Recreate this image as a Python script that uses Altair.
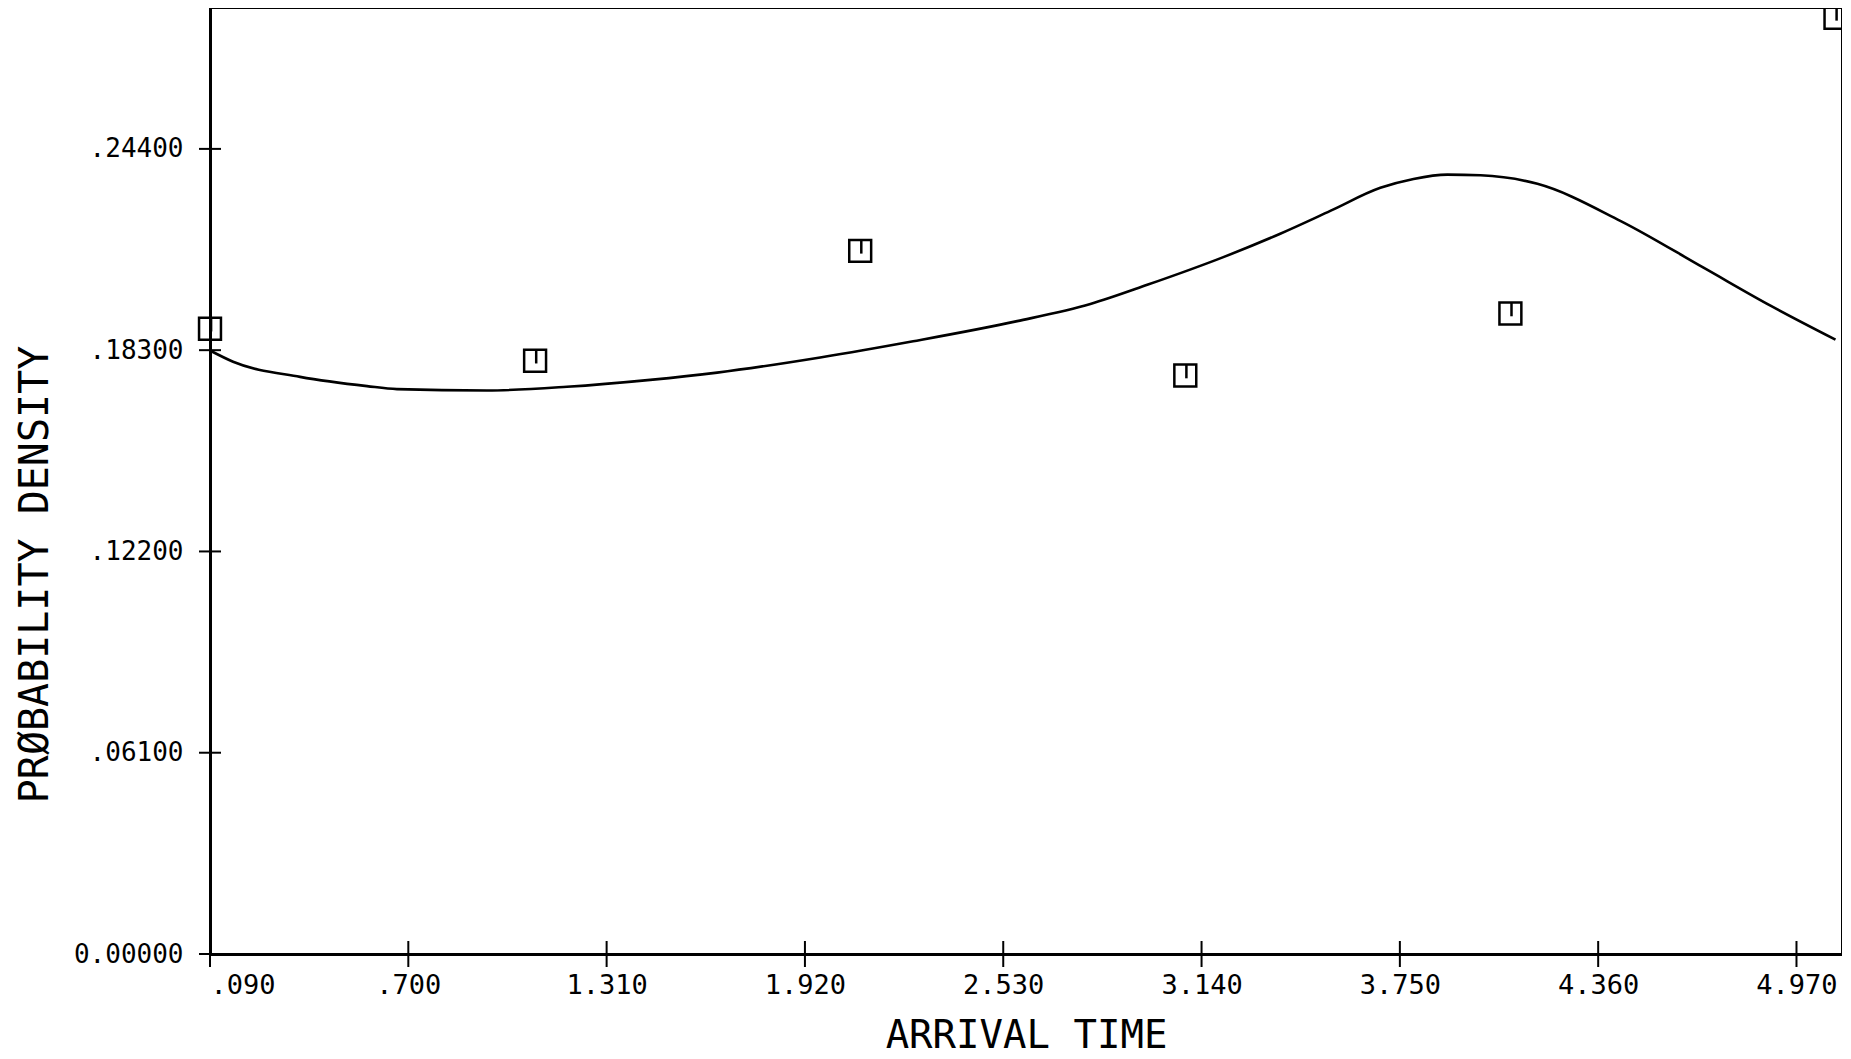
import altair as alt
import pandas as pd

# Fitted density curve
curve_x = [0.090, 0.161, 0.367, 0.573, 0.665, 0.942, 1.188, 1.444, 1.650, 1.967,
           2.253, 2.573, 2.798, 2.973, 3.207, 3.382, 3.536, 3.690, 3.792, 3.896,
           3.998, 4.173, 4.428, 4.684, 4.890, 5.090]
curve_y = [0.1829, 0.1795, 0.1749, 0.1721, 0.1712, 0.1708, 0.1719, 0.1740, 0.1762, 0.1808,
           0.1857, 0.1918, 0.1970, 0.2028, 0.2112, 0.2183, 0.2252, 0.2322, 0.2349, 0.2362,
           0.2360, 0.2334, 0.2222, 0.2080, 0.1965, 0.1862]

# Observed points (square symbols)
pts_x = [0.09, 1.09, 2.09, 3.09, 4.09, 5.09]
pts_y = [0.1895, 0.1798, 0.2131, 0.1753, 0.1941, 0.2837]

x_ticks = [0.09, 0.70, 1.31, 1.92, 2.53, 3.14, 3.75, 4.36, 4.97]
x_tick_labels = [".090", ".700", "1.310", "1.920", "2.530", "3.140", "3.750", "4.360", "4.970"]
y_ticks = [0.0, 0.061, 0.122, 0.183, 0.244]
y_tick_labels = ["0.00000", ".06100", ".12200", ".18300", ".24400"]

x_domain = [0.09, 5.11]
y_domain = [0.0, 0.2867]

FONT = "DejaVu Sans Mono"
W, H = 1632, 946


def label_expr(vals, labels):
    parts = [f"abs(datum.value - {v}) < 1e-6 ? '{l}'" for v, l in zip(vals, labels)]
    return " : ".join(parts) + " : ''"


curve_df = pd.DataFrame({"x": curve_x, "y": curve_y})
pts_df = pd.DataFrame({"x": pts_x, "y": pts_y})
xt_df = pd.DataFrame({"x": x_ticks})
yt_df = pd.DataFrame({"y": y_ticks})

xscale = alt.Scale(domain=x_domain, nice=False, zero=False)
yscale = alt.Scale(domain=y_domain, nice=False, zero=False)

x_axis = alt.Axis(
    values=x_ticks, labelExpr=label_expr(x_ticks, x_tick_labels),
    ticks=False, tickSize=0, grid=False, labelPadding=18,
    labelFontSize=27, labelFont=FONT, labelColor="black",
    title="ARRIVAL TIME", titleFont=FONT, titleFontSize=39, titleFontWeight="normal",
    titleColor="black", titleBaseline="alphabetic", titleY=93,
    domainColor="black", domainWidth=3,
)
y_axis = alt.Axis(
    values=y_ticks, labelExpr=label_expr(y_ticks, y_tick_labels),
    ticks=False, tickSize=0, grid=False, labelPadding=27,
    labelFontSize=26, labelFont=FONT, labelColor="black",
    title="PRØBABILITY DENSITY", titleFont=FONT, titleFontSize=40, titleFontWeight="normal",
    titleColor="black", titleBaseline="alphabetic", titleX=-163, titleY=566,
    titleAngle=-90, titleAlign="center",
    domainColor="black", domainWidth=3,
)

line = alt.Chart(curve_df).mark_line(color="black", strokeWidth=2.6, interpolate="monotone").encode(
    x=alt.X("x:Q", scale=xscale, axis=x_axis),
    y=alt.Y("y:Q", scale=yscale, axis=y_axis),
)

squares = alt.Chart(pts_df).mark_point(shape="square", size=480, filled=False,
                                       color="black", strokeWidth=2.5, opacity=1).encode(
    x=alt.X("x:Q", scale=xscale), y=alt.Y("y:Q", scale=yscale))

inner = alt.Chart(pts_df).mark_point(shape="M0.1,-1L0.1,0.25", size=480, filled=False,
                                     color="black", strokeWidth=2.5, opacity=1).encode(
    x=alt.X("x:Q", scale=xscale), y=alt.Y("y:Q", scale=yscale))

# cross-shaped tick marks straddling the axes
xcross = alt.Chart(xt_df).mark_rule(color="black", strokeWidth=2).encode(
    x=alt.X("x:Q", scale=xscale), y=alt.value(H - 13), y2=alt.value(H + 13))

ycross = alt.Chart(yt_df).mark_rule(color="black", strokeWidth=2).encode(
    y=alt.Y("y:Q", scale=yscale), x=alt.value(-11), x2=alt.value(11))

chart = alt.layer(line, squares, inner, xcross, ycross).properties(
    width=W, height=H,
    autosize=alt.AutoSizeParams(type="none"),
    padding={"left": 202, "top": 0, "right": 0, "bottom": 103},
    background="white",
).configure_view(stroke="black", strokeWidth=2)

chart.save("out.html", embed_options={"renderer": "svg", "actions": False})
